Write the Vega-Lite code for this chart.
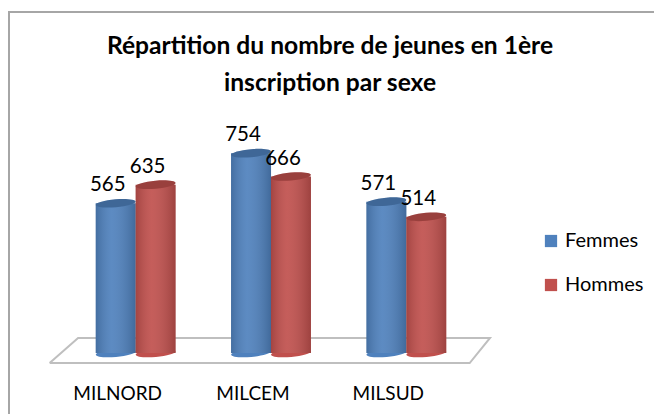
{
"$schema":"https://vega.github.io/schema/vega-lite/v6.json",
"autosize":{"type":"none"},
"padding":{"left":9,"top":12,"right":0,"bottom":0},
"width":660,"height":410,
"background":"white",
"config":{"view":{"stroke":"#a6a6a6","strokeWidth":2},"font":"Lato"},
"title":{"text":["Répartition du nombre de jeunes en 1ère","inscription par sexe"],"font":"Lato","fontSize":24.6,"fontWeight":"bold","color":"black","lineHeight":37,"anchor":"middle","dx":-9,"offset":-85,"orient":"top"},
"datasets":{
"bars":[
{"site":"MILNORD","sexe":"Femmes","n":565},
{"site":"MILNORD","sexe":"Hommes","n":635},
{"site":"MILCEM","sexe":"Femmes","n":754},
{"site":"MILCEM","sexe":"Hommes","n":666},
{"site":"MILSUD","sexe":"Femmes","n":571},
{"site":"MILSUD","sexe":"Hommes","n":514}],
"floor":[
{"u":-0.63,"v":-38,"k":0},
{"u":2.47,"v":-38,"k":1},
{"u":2.62,"v":57,"k":2},
{"u":-0.42,"v":57,"k":3},
{"u":-0.63,"v":-38,"k":4}]
},
"layer":[
{"data":{"name":"floor"},
"mark":{"type":"line","stroke":"#bfbfbf","strokeWidth":2,"clip":false},
"encoding":{
"x":{"field":"u","type":"quantitative","axis":null,"scale":{"domain":[-1,3],"range":[-9.5,532.5]}},
"y":{"field":"v","type":"quantitative","axis":null,"scale":{"domain":[-260.4,1286.8],"range":[410,0],"zero":false,"nice":false}},
"order":{"field":"k"}}},
{"data":{"name":"bars"},
"encoding":{
"x":{"field":"site","type":"nominal","sort":["MILNORD","MILCEM","MILSUD"],
"scale":{"range":[59,465],"paddingInner":0.41,"paddingOuter":0.205},
"axis":{"title":null,"domain":false,"ticks":false,"labelAngle":0,"labelFont":"Lato","labelFontSize":19,"labelColor":"black","labelOffset":-18,"offset":-38,"labelPadding":0,"grid":false}},
"xOffset":{"field":"sexe","type":"nominal"},
"y":{"field":"n","type":"quantitative","axis":null,"scale":{"domain":[-260.4,1286.8],"range":[410,0],"zero":false,"nice":false}}},
"layer":[
{"mark":{"type":"point","filled":true,"opacity":1,"size":1600,"shape":"M -1 0 A 1 0.2 0 1 1 1 0 A 1 0.2 0 1 1 -1 0 Z","angle":-5},
"encoding":{"y":{"datum":0},"color":{"field":"sexe","type":"nominal","scale":{"domain":["Femmes","Hommes"],"range":["#4f81bd","#c0504d"]},
"legend":{"title":null,"orient":"none","legendX":532,"legendY":219,"symbolType":"square","symbolSize":150,"labelFont":"Lato","labelFontSize":20,"labelColor":"black","rowPadding":24,"symbolStrokeWidth":0}}}},
{"mark":{"type":"bar","width":40},
"encoding":{"y2":{"datum":0},"color":{"field":"sexe","type":"nominal"}}},
{"mark":{"type":"bar","width":40,"fill":{"x1":0,"y1":0,"x2":1,"y2":0,"gradient":"linear","stops":[{"offset":0,"color":"rgba(0,0,0,0.15)"},{"offset":0.4,"color":"rgba(255,255,255,0.08)"},{"offset":1,"color":"rgba(0,0,0,0.18)"}]}},
"encoding":{"y2":{"datum":0}}},
{"mark":{"type":"point","filled":true,"opacity":1,"size":1600,"shape":"M -1 0 A 1 0.2 0 1 1 1 0 A 1 0.2 0 1 1 -1 0 Z","angle":-5},
"encoding":{"color":{"field":"sexe","type":"nominal"}}},
{"mark":{"type":"point","filled":true,"opacity":0.2,"size":1600,"shape":"M -1 0 A 1 0.2 0 1 1 1 0 A 1 0.2 0 1 1 -1 0 Z","angle":-5,"color":"black"}},
{"mark":{"type":"text","font":"Lato","fontSize":20.5,"color":"black","dx":-8,"dy":-18,"baseline":"middle"},
"encoding":{"text":{"field":"n","type":"quantitative"}}}
]}
],
"resolve":{"scale":{"x":"independent"}}
}
